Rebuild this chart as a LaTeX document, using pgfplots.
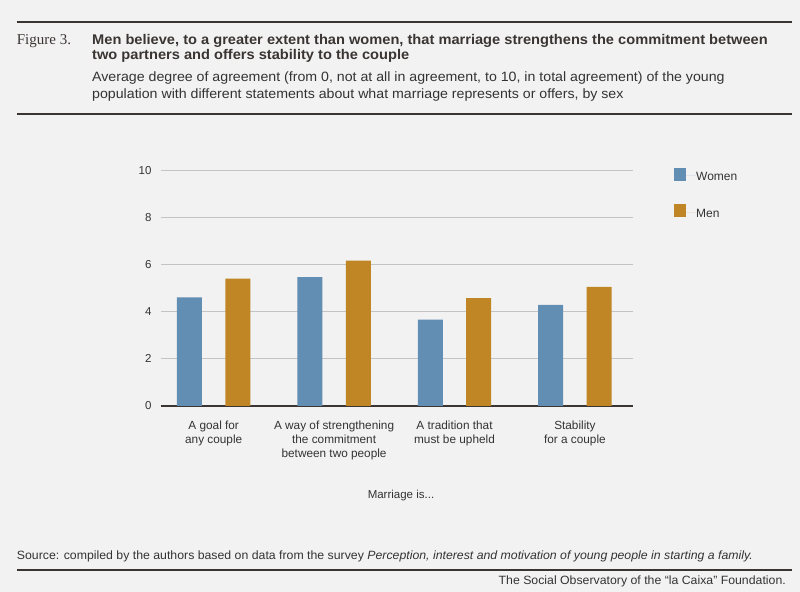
\documentclass[border=0pt]{standalone}
\usepackage{pgfplots}
\pgfplotsset{compat=1.18}
\usepackage{fontspec}
\setmainfont{Liberation Sans}
\newfontfamily\serifff{Liberation Serif}
\newfontfamily\titlefont[FakeStretch=1.045]{Liberation Sans}
\newfontfamily\subfont[FakeStretch=1.05]{Liberation Sans}
\newfontfamily\srcfont[FakeStretch=1.025]{Liberation Sans}
\definecolor{bg}{HTML}{F2F2F2}
\definecolor{wblue}{HTML}{628EB4}
\definecolor{mgold}{HTML}{C08525}
\definecolor{rulec}{HTML}{3A3533}
\definecolor{txt}{HTML}{333333}
\definecolor{gridc}{HTML}{C4C4C4}
\begin{document}
\begin{tikzpicture}[x=1bp,y=1bp]
\fill[bg] (0,0) rectangle (800,592);
% header
\draw[rulec, line width=1.7bp] (16.7,570) -- (792,570);
\node[anchor=base west, inner sep=0pt, text=rulec] at (16.7,547.7) {\serifff\fontsize{15bp}{15bp}\selectfont Figure 3.};
\node[anchor=base west, inner sep=0pt, text=rulec] at (92,547.7) {\titlefont\bfseries\fontsize{14bp}{15bp}\selectfont Men believe, to a greater extent than women, that marriage strengthens the commitment between};
\node[anchor=base west, inner sep=0pt, text=rulec] at (92,532.7) {\titlefont\bfseries\fontsize{14bp}{15bp}\selectfont two partners and offers stability to the couple};
\node[anchor=base west, inner sep=0pt, text=txt] at (92,510) {\subfont\fontsize{13.5bp}{15bp}\selectfont Average degree of agreement (from 0, not at all in agreement, to 10, in total agreement) of the young};
\node[anchor=base west, inner sep=0pt, text=txt] at (92,493.7) {\subfont\fontsize{13.5bp}{15bp}\selectfont population with different statements about what marriage represents or offers, by sex};
\draw[rulec, line width=1.7bp] (16.7,477.7) -- (792,477.7);
% footer
\node[anchor=base west, inner sep=0pt, text=txt] at (16.7,32.7) {\srcfont\fontsize{12bp}{14bp}\selectfont Source: compiled by the authors based on data from the survey \textit{Perception, interest and motivation of young people in starting a family.}};
\draw[rulec, line width=2bp] (16.7,22) -- (792,22);
\node[anchor=base east, inner sep=0pt, text=txt] at (786,7.7) {\srcfont\fontsize{12bp}{14bp}\selectfont The Social Observatory of the “la Caixa” Foundation.};
\node[anchor=base, inner sep=0pt, text=txt] at (401,93) {\fontsize{11.5bp}{13bp}\selectfont Marriage is...};
\begin{axis}[
  at={(160.7bp,186bp)}, anchor=south west,
  width=472bp, height=235.7bp, scale only axis,
  xmin=-0.44, xmax=3.48, ymin=0, ymax=10,
  ybar=23.4bp, bar width=25bp,
  axis x line*=bottom, axis y line*=left,
  y axis line style={draw=none},
  x axis line style={-, draw=rulec, line width=1.2bp},
  ymajorgrids, grid style={gridc, line width=0.9bp},
  major tick length=0pt,
  ytick={0,2,4,6,8,10},
  xtick={0,1,2,3},
  xticklabels={{A goal for\\any couple},{A way of strengthening\\the commitment\\between two people},{A tradition that\\must be upheld},{Stability\\for a couple}},
  xticklabel style={align=center, anchor=north, inner sep=0pt, yshift=-15bp, text=txt, font=\fontsize{11.8bp}{13.7bp}\selectfont},
  yticklabel style={anchor=east, inner sep=0pt, xshift=-9bp, text=txt, font=\fontsize{11.5bp}{13bp}\selectfont},
  /pgf/number format/assume math mode=true,
  legend style={at={(1.086,1.01)}, anchor=north west, draw=none, fill=none, row sep=22bp, inner sep=0pt,
    font=\fontsize{12bp}{14bp}\selectfont, text=txt, nodes={inner sep=0pt, yshift=-1.5bp}},
  legend cell align=left,
  legend image code/.code={\fill[#1] (0bp,-4.85bp) rectangle (12.7bp,7.85bp); \path (0bp,0bp) -- (22.7bp,0bp);},
]
\addplot[fill=wblue, draw=none] coordinates {(0,4.61) (1,5.47) (2,3.66) (3,4.29)};
\addplot[fill=mgold, draw=none] coordinates {(0,5.40) (1,6.17) (2,4.58) (3,5.05)};
\legend{Women,Men}
\end{axis}
\end{tikzpicture}
\end{document}
